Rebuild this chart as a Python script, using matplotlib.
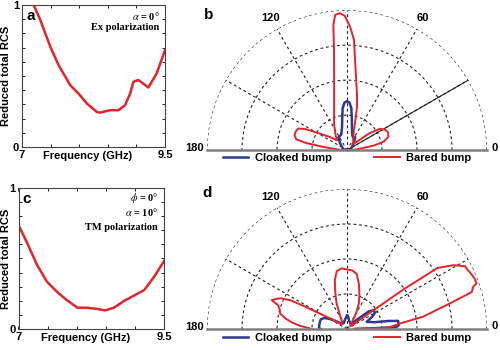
import numpy as np
import matplotlib
matplotlib.use("Agg")
import matplotlib.pyplot as plt

plt.rcParams['font.family'] = ['Liberation Sans', 'DejaVu Sans']
plt.rcParams['mathtext.fontset'] = 'stix'

RED = '#e3242b'
BLUE = '#2b3990'

# 频率曲线数据 (a, c)
freq_a = [7.0, 7.1, 7.203, 7.32, 7.494, 7.64, 7.843, 7.988, 8.134, 8.308, 8.366,
          8.54, 8.686, 8.802, 8.89, 8.948, 9.035, 9.209, 9.355, 9.5]
rcs_a = [1.25, 1.1, 1.0, 0.894, 0.706, 0.576, 0.435, 0.376, 0.306, 0.247, 0.242,
         0.259, 0.259, 0.294, 0.376, 0.459, 0.471, 0.419, 0.518, 0.682]

freq_c = [7.0, 7.14, 7.32, 7.49, 7.66, 7.83, 8.01, 8.18, 8.35, 8.49, 8.64,
          8.81, 8.98, 9.16, 9.33, 9.5]
rcs_c = [0.736, 0.618, 0.453, 0.335, 0.264, 0.205, 0.151, 0.151, 0.142, 0.132,
         0.151, 0.198, 0.236, 0.276, 0.37, 0.481]

# 极坐标数据 (b): 角度(度) 与归一化半径
theta_b_bared = [0, 5, 10, 13, 18, 23, 28, 33, 37, 40, 45, 55, 62, 70, 75, 77, 80,
                 83.6, 86.4, 88.5, 91, 93, 95, 96.2, 97.4, 100, 104, 110, 116, 121,
                 128, 135, 142, 147, 150, 153, 156, 160, 164, 168, 170, 172, 175,
                 180]
r_b_bared = [0.03, 0.08, 0.2, 0.27, 0.31, 0.32, 0.31, 0.28, 0.2, 0.1, 0.06, 0.08,
             0.1, 0.14, 0.24, 0.32, 0.41, 0.56, 0.79, 0.88, 0.96, 0.98, 0.97, 0.9,
             0.72, 0.53, 0.38, 0.27, 0.21, 0.17, 0.13, 0.1, 0.15, 0.2, 0.25, 0.33,
             0.38, 0.39, 0.39, 0.37, 0.3, 0.18, 0.08, 0.03]

theta_b_cloak = [0, 30, 50, 58, 65, 72, 78, 81, 84, 87, 90, 93, 96, 99, 102, 110,
                 120, 125, 135, 150, 180]
r_b_cloak = [0.02, 0.04, 0.08, 0.11, 0.1, 0.12, 0.17, 0.22, 0.3, 0.34, 0.35, 0.34,
             0.3, 0.22, 0.17, 0.12, 0.11, 0.11, 0.07, 0.04, 0.02]

# 极坐标数据 (d)
theta_d_bared = [0, 2, 5.6, 9.2, 14, 16.5, 18.5, 19.4, 21.6, 24, 26, 28, 31, 34,
                 35, 36, 40, 50, 55, 60, 65, 70, 75, 80, 85, 90, 95, 100, 104,
                 108, 112, 118, 125, 135, 140, 145, 150, 152, 153, 155, 157, 159,
                 161, 164, 167, 170, 173, 176, 180]
r_d_bared = [0.05, 0.3, 0.37, 0.55, 0.76, 0.93, 0.95, 0.98, 0.98, 0.97, 0.96,
             0.955, 0.885, 0.78, 0.5, 0.1, 0.03, 0.05, 0.07, 0.13, 0.2, 0.26, 0.33,
             0.4, 0.42, 0.425, 0.435, 0.42, 0.36, 0.27, 0.2, 0.1, 0.06, 0.05,
             0.05, 0.1, 0.2, 0.35, 0.45, 0.52, 0.55, 0.576, 0.52, 0.5, 0.49, 0.45,
             0.4, 0.34, 0.25]

theta_d_cloak = [0, 2, 4, 9, 11, 14, 20, 26, 30, 35, 39, 43, 50, 60, 75, 85, 90,
                 95, 102, 115, 130, 140, 148, 154, 160, 166, 172, 178, 180]
r_d_cloak = [0.05, 0.35, 0.37, 0.37, 0.3, 0.2, 0.15, 0.2, 0.23, 0.235, 0.2, 0.1,
             0.04, 0.05, 0.06, 0.09, 0.1, 0.08, 0.07, 0.05, 0.05, 0.07, 0.13, 0.18,
             0.2, 0.2, 0.2, 0.2, 0.19]

fig = plt.figure(figsize=(5, 3.5), dpi=100)


def freq_panel(rect, x, y, letter, notes, note_y, ylab_x):
    ax = fig.add_axes(rect)
    ax.plot(x, y, color=RED, lw=1.8, clip_on=True)
    ax.set_xlim(7, 9.5)
    ax.set_ylim(0, 1)
    ax.set_xticks(np.arange(7, 9.51, 0.5))
    ax.set_xticklabels(['7', '', '', '', '', '9.5'])
    ax.set_yticks(np.arange(0, 1.01, 0.1))
    ax.set_yticklabels(['0'] + [''] * 9 + ['1'])
    ax.tick_params(direction='in', length=2.5, width=0.6, top=True, right=True,
                   labelsize=8, pad=2)
    for lab in ax.get_xticklabels() + ax.get_yticklabels():
        lab.set_fontweight('bold')
    for s in ax.spines.values():
        s.set_linewidth(0.8)
        s.set_color('#444444')
    ax.set_xlabel('Frequency (GHz)', fontsize=8, fontweight='bold')
    ax.xaxis.set_label_coords(0.46, -0.03)
    ax.set_ylabel('Reduced total RCS', fontsize=8, fontweight='bold')
    ax.yaxis.set_label_coords(ylab_x, 0.5)
    ax.text(0.03, 0.97, letter, transform=ax.transAxes, fontsize=11,
            fontweight='bold', va='top', ha='left')
    for t, yy in zip(notes, note_y):
        ax.text(0.96, yy, t, transform=ax.transAxes, fontsize=7.5,
                fontweight='bold', family='Liberation Serif', va='top', ha='right')
    return ax


freq_panel([0.044, 0.58, 0.286, 0.406], freq_a, rcs_a, 'a',
           [r'$\alpha$ = 0°', 'Ex polarization'], [0.965, 0.875], -0.075)
freq_panel([0.037, 0.06, 0.291, 0.403], freq_c, rcs_c, 'c',
           [r'$\phi$ = 0°', r'$\alpha$ = 10°', 'TM polarization'],
           [0.975, 0.87, 0.755], -0.05)


def polar_panel(rect, letter, letter_xy, leg_xy, tb, rb, tc, rc, solid30):
    ax = fig.add_axes(rect, projection='polar')
    ax.set_thetamin(0)
    ax.set_thetamax(180)
    ax.set_rlim(0, 1)
    ax.set_rgrids([0.25, 0.5, 0.75, 1.0], labels=[''] * 4)
    ax.set_thetagrids([30, 60, 90, 120, 150], labels=[''] * 5)
    ax.grid(True, color='#222222', linestyle=(0, (2.5, 2.5)), lw=0.8)
    ax.spines['polar'].set_visible(False)
    ax.spines['inner'].set_visible(False)
    for k in ('start', 'end'):
        ax.spines[k].set_color('#808080')
        ax.spines[k].set_linewidth(1.8)
    if solid30:
        ax.plot([np.deg2rad(30)] * 2, [0, 1], color='#222222', lw=0.8)
    ax.plot(np.deg2rad(tc), rc, color=BLUE, lw=1.8, label='Cloaked bump')
    ax.plot(np.deg2rad(tb), rb, color=RED, lw=1.4, label='Bared bump')
    ax.text(np.deg2rad(120), 1.09, '120', fontsize=8, fontweight='bold',
            ha='center', va='center')
    ax.text(np.deg2rad(60), 1.09, '60', fontsize=8, fontweight='bold',
            ha='center', va='center')
    ax.text(np.deg2rad(179), 1.02, '180', fontsize=8, fontweight='bold',
            ha='right', va='center')
    ax.text(np.deg2rad(1), 1.03, '0', fontsize=8, fontweight='bold',
            ha='left', va='center')
    fig.text(letter_xy[0], letter_xy[1], letter, fontsize=11,
             fontweight='bold', va='top', ha='left')
    leg = ax.legend(loc='center', bbox_to_anchor=leg_xy,
                    bbox_transform=fig.transFigure, ncol=2,
                    frameon=False, fontsize=8, handlelength=2.3,
                    columnspacing=3.8, handletextpad=0.6, borderpad=0)
    for t in leg.get_texts():
        t.set_fontweight('bold')
    return ax


# 极坐标轴框为整圆的外接正方形, 半圆位于其中
polar_panel([0.414, 0.371, 0.56, 0.8], 'b', (0.408, 0.978), (0.694, 0.549),
            theta_b_bared, r_b_bared, theta_b_cloak, r_b_cloak, True)
polar_panel([0.414, -0.14, 0.56, 0.8], 'd', (0.404, 0.469), (0.694, 0.034),
            theta_d_bared, r_d_bared, theta_d_cloak, r_d_cloak, False)

plt.savefig('out.png', dpi=100)
